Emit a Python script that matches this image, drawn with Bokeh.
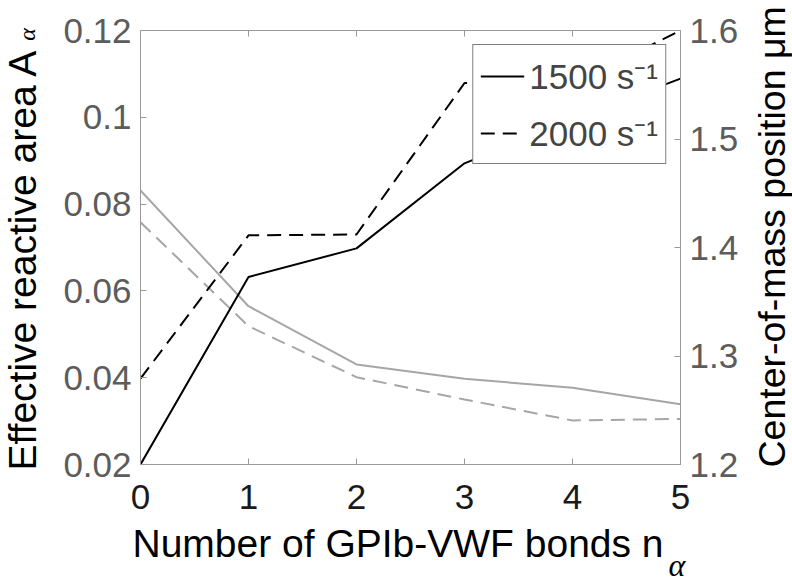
import math
from bokeh.plotting import figure
from bokeh.models import (Range1d, LinearAxis, FixedTicker, PrintfTickFormatter,
                          Legend, LegendItem, Label, Title)
from bokeh.embed import file_html
from bokeh.resources import INLINE

# ---- data ----
bonds = [0, 1, 2, 3, 4, 5]
area_1500 = [0.0200, 0.0632, 0.0698, 0.0894, 0.0995, 0.1089]
area_2000 = [0.0398, 0.0728, 0.0730, 0.1079, 0.1077, 0.1200]
com_1500 = [1.4525, 1.3459, 1.2922, 1.2790, 1.2707, 1.2555]
com_2000 = [1.4233, 1.3275, 1.2805, 1.2599, 1.2406, 1.2420]
x_ticks = [0, 1, 2, 3, 4, 5]
area_ticks = [0.02, 0.04, 0.06, 0.08, 0.1, 0.12]
com_ticks = [1.2, 1.3, 1.4, 1.5, 1.6]
series_labels = ["1500 s\u207b\u00b9", "2000 s\u207b\u00b9"]

FONT = "Liberation Sans"
SERIF = "Liberation Serif"
TICK_FS = "35px"
LABEL_FS = "39px"
AXIS_GRAY = "#999999"
TICK_GRAY = "#5c5c5c"
LINE_GRAY = "#a6a6a6"

p = figure(width=792, height=582, x_range=Range1d(0, 5), y_range=Range1d(0.02, 0.12),
           output_backend="svg", toolbar_location=None,
           min_border_left=140, min_border_right=112, min_border_top=30, min_border_bottom=118)
p.extra_y_ranges = {"com": Range1d(1.2, 1.6)}
p.grid.visible = False
p.outline_line_color = None
p.background_fill_color = "white"


def style(ax, label_color, font_size=TICK_FS):
    ax.axis_line_color = AXIS_GRAY
    ax.axis_line_width = 1
    ax.major_tick_line_color = AXIS_GRAY
    ax.major_tick_in = 6
    ax.major_tick_out = 0
    ax.minor_tick_line_color = None
    ax.major_label_text_font = FONT
    ax.major_label_text_font_size = font_size
    ax.major_label_text_color = label_color


xa = p.xaxis[0]
xa.ticker = FixedTicker(ticks=x_ticks)
style(xa, "#1a1a1a")
xa.major_label_standoff = 20

ya = p.yaxis[0]
ya.ticker = FixedTicker(ticks=area_ticks)
ya.formatter = PrintfTickFormatter(format="%g")
style(ya, TICK_GRAY)
ya.major_label_standoff = 9

ra = LinearAxis(y_range_name="com", ticker=FixedTicker(ticks=com_ticks),
                formatter=PrintfTickFormatter(format="%g"))
style(ra, TICK_GRAY)
ra.major_label_standoff = 9
p.add_layout(ra, "right")

ta = LinearAxis(ticker=FixedTicker(ticks=x_ticks),
                major_label_overrides={t: "" for t in x_ticks})
style(ta, TICK_GRAY, font_size="0px")
ta.major_label_standoff = 0
p.add_layout(ta, "above")

# gray: centre-of-mass (right axis)
p.line(bonds, com_1500, y_range_name="com", line_color=LINE_GRAY, line_width=2)
p.line(bonds, com_2000, y_range_name="com", line_color=LINE_GRAY, line_width=2, line_dash="14 8")
# black: effective reactive area (left axis)
r1 = p.line(bonds, area_1500, line_color="black", line_width=2)
r2 = p.line(bonds, area_2000, line_color="black", line_width=2, line_dash="14 8")

legend = Legend(items=[LegendItem(label=series_labels[0], renderers=[r1]),
                       LegendItem(label=series_labels[1], renderers=[r2])],
                location="top_right", margin=14,
                label_text_font=FONT, label_text_font_size="35px",
                glyph_width=44, glyph_height=44, label_height=44, label_standoff=5,
                padding=7, spacing=10,
                border_line_color="black", border_line_width=1,
                background_fill_color="white", background_fill_alpha=1.0)
p.add_layout(legend)

# axis titles, placed in the side panels (not clipped to the frame)
txt = dict(x_units="data", y_units="data", text_font=FONT, text_color="black",
           text_align="left", text_baseline="middle")
p.add_layout(Label(x=-1.091, y=0.0186, angle=math.pi / 2, text="Effective reactive area A",
                   text_font_size=LABEL_FS, **txt), "left")
p.add_layout(Label(x=5.843, y=0.0193, angle=math.pi / 2, text="Center-of-mass position \u03bcm",
                   text_font_size="37.5px", **txt), "right")
p.add_layout(Label(x=-0.074, y=0.00175, text="Number of GPIb-VWF bonds n",
                   text_font_size=LABEL_FS, **txt), "below")

# subscript alphas
p.add_layout(Label(x=-1.050, y=0.1191, angle=math.pi / 2, text="\u03b1",
                   x_units="data", y_units="data", text_font=SERIF, text_font_style="italic",
                   text_font_size="24px", text_color="black",
                   text_align="center", text_baseline="middle"), "above")
p.add_layout(Title(text="\u03b1", align="left", offset=528, vertical_align="bottom",
                   standoff=-20, text_font=SERIF, text_font_style="italic",
                   text_font_size="32px", text_color="black"), "below")

open("out.html", "w").write(file_html(p, INLINE))
